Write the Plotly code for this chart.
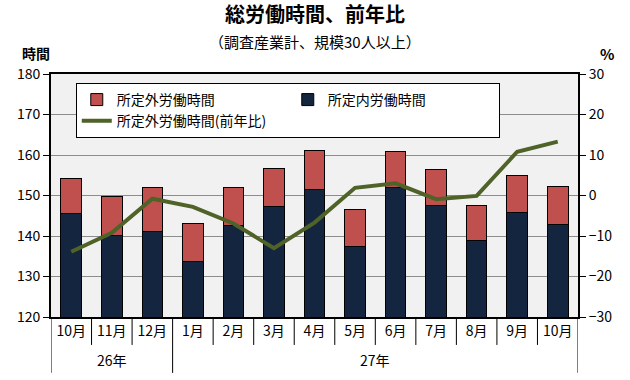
import plotly.graph_objects as go

# ---- data ----
months = ["10月", "11月", "12月", "1月", "2月", "3月", "4月", "5月", "6月", "7月", "8月", "9月", "10月"]
year_labels = ["26年", "27年"]
year_counts = [3, 10]
scheduled_hours = [145.6, 140.2, 141.2, 133.8, 142.7, 147.4, 151.5, 137.5, 152.0, 147.6, 138.9, 145.9, 142.9]
overtime_hours = [8.6, 9.6, 10.8, 9.3, 9.3, 9.3, 9.7, 9.1, 8.9, 8.9, 8.7, 9.1, 9.3]
overtime_yoy = [-13.9, -9.2, -0.8, -2.8, -6.9, -13.0, -6.7, 1.9, 3.0, -0.9, -0.1, 10.8, 13.3]

FONT = "Noto Sans CJK JP"
x_idx = list(range(len(months)))

fig = go.Figure()
fig.add_trace(go.Bar(
    x=x_idx, y=scheduled_hours, name="所定内労働時間",
    marker=dict(color="#14253f", line=dict(color="black", width=1)),
    legendrank=2,
))
fig.add_trace(go.Bar(
    x=x_idx, y=overtime_hours, name="所定外労働時間",
    marker=dict(color="#c0504d", line=dict(color="black", width=1)),
    legendrank=1,
))
fig.add_trace(go.Scatter(
    x=x_idx, y=overtime_yoy, name="所定外労働時間(前年比)", yaxis="y2",
    mode="lines", line=dict(color="#4f6228", width=4),
    legendrank=3,
))

# category separators below the axis
shapes = []
bounds = [0]
for c in year_counts:
    bounds.append(bounds[-1] + c)
for i in range(len(months) + 1):
    y_end = -0.23 if i in bounds else -0.115
    shapes.append(dict(type="line", xref="x", yref="paper",
                       x0=i - 0.5, x1=i - 0.5, y0=0, y1=y_end,
                       line=dict(color="black", width=1)))

annotations = [
    dict(text="<b>総労働時間、前年比</b>", xref="paper", yref="paper", x=0.5, y=1.247,
         showarrow=False, font=dict(size=20, family=FONT, color="black"), xanchor="center", yanchor="middle"),
    dict(text="（調査産業計、規模30人以上）", xref="paper", yref="paper", x=0.5, y=1.133,
         showarrow=False, font=dict(size=15, family=FONT, color="black"), xanchor="center", yanchor="middle"),
    dict(text="<b>時間</b>", xref="paper", yref="paper", x=-0.028, y=1.085,
         showarrow=False, font=dict(size=14, family=FONT, color="black"), xanchor="center", yanchor="middle"),
    dict(text="<b>%</b>", xref="paper", yref="paper", x=1.055, y=1.085,
         showarrow=False, font=dict(size=15, family=FONT, color="black"), xanchor="center", yanchor="middle"),
]
start = 0
for lab, c in zip(year_labels, year_counts):
    annotations.append(dict(text=lab, xref="x", yref="paper", x=start + (c - 1) / 2, y=-0.177,
                            showarrow=False, font=dict(size=14, family=FONT, color="black"),
                            xanchor="center", yanchor="middle"))
    start += c

fig.update_layout(
    width=630, height=380,
    margin=dict(l=51, r=52, t=74, b=63),
    paper_bgcolor="white", plot_bgcolor="#f1f1f1",
    barmode="stack", bargap=0.49,
    font=dict(family=FONT, size=14, color="black"),
    showlegend=True,
    legend=dict(
        orientation="h", x=0.047, y=0.963, xanchor="left", yanchor="top",
        bgcolor="white", bordercolor="black", borderwidth=1,
        font=dict(size=14, family=FONT), entrywidth=166, itemwidth=30, tracegroupgap=0,
        traceorder="normal",
    ),
    xaxis=dict(
        range=[-0.5, len(months) - 0.5], tickmode="array", tickvals=x_idx, ticktext=months,
        showgrid=False, zeroline=False, showline=True, linecolor="black", linewidth=2, mirror=True,
        ticks="", tickfont=dict(size=14),
    ),
    yaxis=dict(
        range=[120, 180], dtick=10, showgrid=True, gridcolor="#8c8c8c", gridwidth=1,
        zeroline=False, showline=True, linecolor="black", linewidth=2,
        ticks="outside", ticklen=6, tickcolor="black", tickfont=dict(size=14),
    ),
    yaxis2=dict(
        range=[-30, 30], dtick=10, overlaying="y", side="right", showgrid=False,
        zeroline=False, showline=True, linecolor="black", linewidth=2,
        ticks="outside", ticklen=6, tickcolor="black", tickfont=dict(size=14),
    ),
    shapes=shapes, annotations=annotations,
)

fig.write_html("out.html", config={"displayModeBar": False},
               post_script="document.body.style.margin='0';")
